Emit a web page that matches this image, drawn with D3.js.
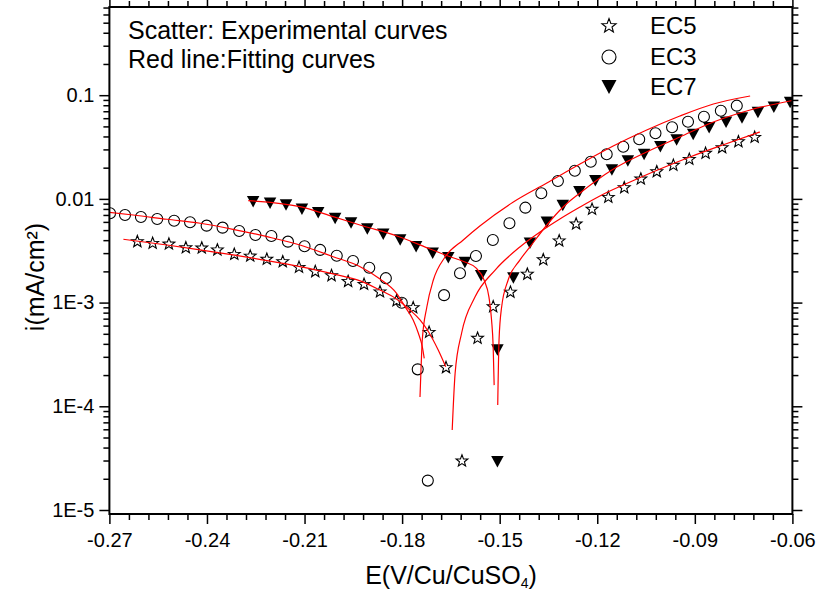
<!DOCTYPE html>
<html>
<head>
<meta charset="utf-8">
<script src="https://cdn.jsdelivr.net/npm/d3@7"></script>
<style>
body{margin:0;background:#fff;}
svg{display:block;}
text{font-family:"Liberation Sans",Arial,sans-serif;fill:#000;}
</style>
</head>
<body>
<svg id="chart" width="818" height="595"></svg>
<script>
// experimental points [E (V), i (mA/cm2)]
var ec5 = [[-0.2614,0.00387],[-0.2567,0.00373],[-0.2517,0.00367],[-0.2465,0.00338],[-0.2416,0.00336],[-0.2368,0.00322],[-0.2316,0.00292],[-0.2267,0.00281],[-0.2216,0.00262],[-0.2167,0.00248],[-0.2117,0.00219],[-0.2067,0.00199],[-0.2017,0.00182],[-0.1966,0.00160],[-0.1917,0.00150],[-0.1868,0.00127],[-0.1817,0.00104],[-0.1766,0.000893],[-0.1717,0.000517],[-0.1665,0.000236],[-0.1616,0.0000297],[-0.1568,0.000453],[-0.1520,0.000913],[-0.1467,0.00126],[-0.1415,0.00188],[-0.1366,0.00259],[-0.1317,0.00394],[-0.1265,0.00573],[-0.1216,0.00794],[-0.1166,0.01036],[-0.1117,0.01282],[-0.1066,0.01555],[-0.1017,0.01830],[-0.0966,0.02109],[-0.0917,0.02409],[-0.0867,0.02753],[-0.0816,0.03117],[-0.0766,0.03560],[-0.0716,0.03926]];

var ec3 = [[-0.2698,0.00726],[-0.2652,0.00699],[-0.2603,0.00669],[-0.2553,0.00640],[-0.2501,0.00616],[-0.2452,0.00595],[-0.2401,0.00552],[-0.2352,0.00528],[-0.2301,0.00490],[-0.2251,0.00449],[-0.2202,0.00439],[-0.2151,0.00387],[-0.2100,0.00349],[-0.2052,0.00322],[-0.2001,0.00283],[-0.1951,0.00252],[-0.1901,0.00217],[-0.1850,0.00172],[-0.1801,0.000998],[-0.1752,0.000227],[-0.1721,0.0000192],[-0.1671,0.00118],[-0.1622,0.00192],[-0.1573,0.00281],[-0.1521,0.00402],[-0.1470,0.00582],[-0.1421,0.00823],[-0.1372,0.01132],[-0.1321,0.01488],[-0.1269,0.01870],[-0.1220,0.02284],[-0.1171,0.02692],[-0.1120,0.03187],[-0.1071,0.03756],[-0.1021,0.04291],[-0.0970,0.04903],[-0.0921,0.05552],[-0.0872,0.06204],[-0.0820,0.07089],[-0.0771,0.07923]];

var ec7 = [[-0.2258,0.00940],[-0.2206,0.00907],[-0.2157,0.00873],[-0.2108,0.00794],[-0.2058,0.00736],[-0.2006,0.00647],[-0.1957,0.00586],[-0.1907,0.00513],[-0.1858,0.00456],[-0.1806,0.00402],[-0.1757,0.00346],[-0.1706,0.00299],[-0.1658,0.00271],[-0.1607,0.00243],[-0.1557,0.00181],[-0.1507,0.000349],[-0.1507,0.0000292],[-0.1458,0.00173],[-0.1407,0.00373],[-0.1355,0.00596],[-0.1306,0.00864],[-0.1255,0.01174],[-0.1206,0.01498],[-0.1155,0.01900],[-0.1106,0.02319],[-0.1056,0.02680],[-0.1006,0.03187],[-0.0956,0.03698],[-0.0905,0.04178],[-0.0856,0.04848],[-0.0804,0.05479],[-0.0755,0.06026],[-0.0706,0.06812],[-0.0657,0.07645],[-0.0607,0.08504]];

// fitting curves
var fitEC3Cath = [[-0.2700,0.00740],[-0.2627,0.00699],[-0.2523,0.00636],[-0.2421,0.00582],[-0.2320,0.00509],[-0.2215,0.00432],[-0.2114,0.00359],[-0.2012,0.00277],[-0.1929,0.00222],[-0.1868,0.00169],[-0.1817,0.00123],[-0.1791,0.000913],[-0.1766,0.000680],[-0.1750,0.000506],[-0.1738,0.000376],[-0.1732,0.000290]];
var fitEC3An = [[-0.1745,0.000123],[-0.1742,0.000224],[-0.1738,0.000436],[-0.1724,0.000907],[-0.1704,0.00165],[-0.1668,0.00275],[-0.1612,0.00402],[-0.1561,0.00548],[-0.1458,0.00933],[-0.1355,0.01424],[-0.1253,0.02170],[-0.1151,0.03236],[-0.1048,0.04617],[-0.0946,0.06301],[-0.0843,0.08226],[-0.0730,0.09824]];
var fitEC5Cath = [[-0.2657,0.00408],[-0.2523,0.00359],[-0.2421,0.00322],[-0.2320,0.00288],[-0.2215,0.00254],[-0.2114,0.00222],[-0.2012,0.00189],[-0.1929,0.00162],[-0.1868,0.00132],[-0.1822,0.00111],[-0.1776,0.000849],[-0.1745,0.000680],[-0.1719,0.000524],[-0.1689,0.000349],[-0.1666,0.000241]];
var fitEC5An = [[-0.1646,0.0000591],[-0.1637,0.000209],[-0.1617,0.000509],[-0.1576,0.00113],[-0.1514,0.00206],[-0.1438,0.00344],[-0.1376,0.00480],[-0.1315,0.00640],[-0.1253,0.00835],[-0.1192,0.01067],[-0.1099,0.01455],[-0.1007,0.01942],[-0.0915,0.02535],[-0.0823,0.03236],[-0.0700,0.04416]];
var fitEC7Cath = [[-0.2273,0.00961],[-0.2114,0.00841],[-0.2012,0.00674],[-0.1920,0.00548],[-0.1816,0.00439],[-0.1714,0.00329],[-0.1659,0.00281],[-0.1607,0.00246],[-0.1573,0.00216],[-0.1548,0.00165],[-0.1533,0.00113],[-0.1525,0.000680],[-0.1520,0.000373],[-0.1517,0.000160]];
var fitEC7An = [[-0.1506,0.000103],[-0.1502,0.000436],[-0.1494,0.000907],[-0.1474,0.00165],[-0.1438,0.00257],[-0.1407,0.00344],[-0.1355,0.00560],[-0.1305,0.00835],[-0.1253,0.01140],[-0.1155,0.01900],[-0.1048,0.02833],[-0.0946,0.03953],[-0.0843,0.05515],[-0.0730,0.07201],[-0.0600,0.08889]];

var xMajor = [-0.27,-0.24,-0.21,-0.18,-0.15,-0.12,-0.09,-0.06];
var yMajor = [1e-5,1e-4,1e-3,1e-2,1e-1];
var yLabels = ['1E-5','1E-4','1E-3','0.01','0.1'];
var legendNames = ['EC5','EC3','EC7'];

var svg = d3.select('#chart');
var m = {l:109.4, r:792.4, t:7, b:514};
var FONT = '"Liberation Sans",Arial,sans-serif';

var x = d3.scaleLinear().domain([-0.27,-0.06]).range([m.l,m.r]);
var y = d3.scaleLog().domain([9.15e-6,0.7085]).range([m.b,m.t]);

var xMinor = d3.range(0,36).map(function(i){return +(-0.27+i*0.006).toFixed(4)})
	.filter(function(v,i){return i%5!==0});
var yMinor = [];
d3.range(-6,0).forEach(function(e){
	d3.range(2,10).forEach(function(k){
		var v = k*Math.pow(10,e);
		if(v>=y.domain()[0] && v<=y.domain()[1]) yMinor.push(v);
	});
});

function styleAxis(g){
	g.select('.domain').remove();
	g.selectAll('line').attr('stroke','#000').attr('stroke-width',1.5);
	g.attr('font-family',FONT).attr('font-size',20);
}

// bottom
svg.append('g').attr('transform','translate(0,'+m.b+')')
	.call(d3.axisBottom(x).tickValues(xMajor).tickSize(10).tickPadding(9)
		.tickFormat(function(d){return d.toFixed(2)}))
	.call(styleAxis);
svg.append('g').attr('transform','translate(0,'+m.b+')')
	.call(d3.axisBottom(x).tickValues(xMinor).tickSize(6).tickFormat(''))
	.call(styleAxis);
// top
svg.append('g').attr('transform','translate(0,'+m.t+')')
	.call(d3.axisTop(x).tickValues(xMajor).tickSize(10).tickFormat(''))
	.call(styleAxis);
svg.append('g').attr('transform','translate(0,'+m.t+')')
	.call(d3.axisTop(x).tickValues(xMinor).tickSize(6).tickFormat(''))
	.call(styleAxis);
// left
svg.append('g').attr('transform','translate('+m.l+',0)')
	.call(d3.axisLeft(y).tickValues(yMajor).tickSize(10).tickPadding(5)
		.tickFormat(function(d,i){return yLabels[i]}))
	.call(styleAxis);
svg.append('g').attr('transform','translate('+m.l+',0)')
	.call(d3.axisLeft(y).tickValues(yMinor).tickSize(6).tickFormat(''))
	.call(styleAxis);
// right
svg.append('g').attr('transform','translate('+m.r+',0)')
	.call(d3.axisRight(y).tickValues(yMajor).tickSize(10).tickFormat(''))
	.call(styleAxis);
svg.append('g').attr('transform','translate('+m.r+',0)')
	.call(d3.axisRight(y).tickValues(yMinor).tickSize(6).tickFormat(''))
	.call(styleAxis);

svg.append('clipPath').attr('id','clip').append('rect')
	.attr('x',m.l).attr('y',m.t).attr('width',m.r-m.l).attr('height',m.b-m.t);

var plot = svg.append('g').attr('clip-path','url(#clip)');

function starPath(R){
	var r = R*0.42, pts = [];
	for(var k=0;k<10;k++){
		var a = -Math.PI/2 + k*Math.PI/5, rr = k%2 ? r : R;
		pts.push([rr*Math.cos(a), rr*Math.sin(a)]);
	}
	return 'M'+pts.map(function(p){return p[0].toFixed(2)+','+p[1].toFixed(2)}).join('L')+'Z';
}
function triPath(w,h){
	return 'M'+(-w/2)+','+(-h/2)+'L'+(w/2)+','+(-h/2)+'L0,'+(h/2)+'Z';
}

// markers
plot.selectAll('.ec3').data(ec3).enter().append('circle').attr('class','ec3')
	.attr('cx',function(d){return x(d[0])}).attr('cy',function(d){return y(d[1])})
	.attr('r',5.5).attr('fill','none').attr('stroke','#000').attr('stroke-width',1.1);
plot.selectAll('.ec5').data(ec5).enter().append('path').attr('class','ec5')
	.attr('transform',function(d){return 'translate('+x(d[0])+','+y(d[1])+')'})
	.attr('d',starPath(6.2)).attr('fill','#fff').attr('stroke','#000').attr('stroke-width',1.1);
plot.selectAll('.ec7').data(ec7).enter().append('path').attr('class','ec7')
	.attr('transform',function(d){return 'translate('+x(d[0])+','+y(d[1])+')'})
	.attr('d',triPath(12.5,11.5)).attr('fill','#000');

// fit lines
var line = d3.line().x(function(d){return x(d[0])}).y(function(d){return y(d[1])})
	.curve(d3.curveMonotoneX);
[fitEC3Cath,fitEC3An,fitEC5Cath,fitEC5An,fitEC7Cath,fitEC7An].forEach(function(f){
	plot.append('path').datum(f).attr('d',line)
		.attr('fill','none').attr('stroke','#ff0000').attr('stroke-width',1.2);
});

// frame
svg.append('rect').attr('x',m.l).attr('y',m.t).attr('width',m.r-m.l).attr('height',m.b-m.t)
	.attr('fill','none').attr('stroke','#000').attr('stroke-width',2);

// notes
svg.append('text').attr('x',128).attr('y',39).attr('font-size',25).text('Scatter: Experimental curves');
svg.append('text').attr('x',128).attr('y',68).attr('font-size',25).text('Red line:Fitting curves');

// legend
var lg = svg.append('g');
var legY = [26,57,87];
lg.append('path').attr('transform','translate(609,'+legY[0]+')').attr('d',starPath(7.5))
	.attr('fill','#fff').attr('stroke','#000').attr('stroke-width',1.1);
lg.append('circle').attr('cx',609).attr('cy',legY[1]).attr('r',7)
	.attr('fill','none').attr('stroke','#000').attr('stroke-width',1.1);
lg.append('path').attr('transform','translate(609,'+legY[2]+')').attr('d',triPath(15,14)).attr('fill','#000');
lg.selectAll('.lab').data(legendNames).enter().append('text').attr('class','lab')
	.attr('x',650).attr('y',function(d,i){return legY[i]+8}).attr('font-size',24)
	.text(function(d){return d});

// axis titles
var xt = svg.append('text').attr('x',451).attr('y',584).attr('text-anchor','middle').attr('font-size',25);
xt.append('tspan').text('E(V/Cu/CuSO');
xt.append('tspan').attr('font-size',14).attr('dy',4).text('4');
xt.append('tspan').attr('dy',-4).text(')');

svg.append('text').attr('transform','translate(44,277) rotate(-90)').attr('text-anchor','middle')
	.attr('font-size',25).text('i(mA/cm²)');
</script>
</body>
</html>
